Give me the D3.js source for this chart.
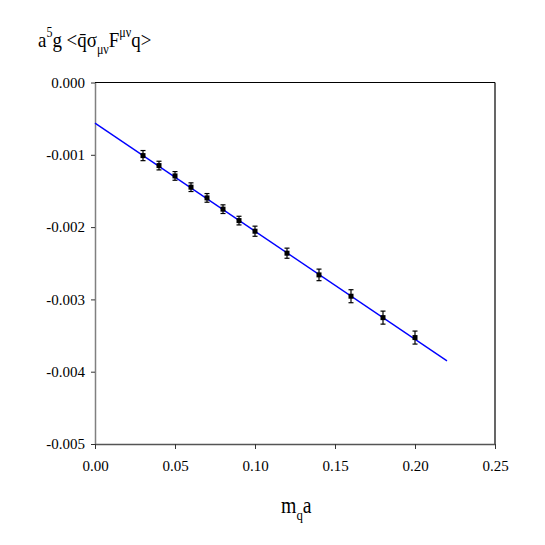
<!DOCTYPE html>
<html>
<head>
<meta charset="utf-8">
<script src="https://cdn.jsdelivr.net/npm/d3@7"></script>
<style>
  body { margin: 0; background: #fff; }
</style>
</head>
<body>
<div id="chart"></div>
<script>
// quark mass values and the measured condensate
var mqa = [0.03, 0.04, 0.05, 0.06, 0.07, 0.08, 0.09, 0.10, 0.12, 0.14, 0.16, 0.18, 0.20];
var cond = [-0.001011, -0.001149, -0.001292, -0.001448, -0.001596, -0.001752, -0.001910,
            -0.002057, -0.002361, -0.002661, -0.002956, -0.003252, -0.003528];
var condErr = [0.00007, 0.00006, 0.00006, 0.00006, 0.00006, 0.00006, 0.00006,
               0.00007, 0.00007, 0.00008, 0.00009, 0.00009, 0.00009];
// linear fit shown as the blue line
var fitX = [0.0, 0.22];
var fitY = [-0.000563, -0.003851];
var xTicks = [0.00, 0.05, 0.10, 0.15, 0.20, 0.25];
var yTicks = [0.000, -0.001, -0.002, -0.003, -0.004, -0.005];

var serif = "'Liberation Serif', 'Times New Roman', Times, serif";

var margin = {top: 82.5, right: 50, bottom: 101, left: 95}
  , width = 545 - margin.left - margin.right
  , height = 545 - margin.top - margin.bottom;

var xScale = d3.scaleLinear().domain([0, 0.25]).range([0, width]);
var yScale = d3.scaleLinear().domain([-0.005, 0]).range([height, 0]);

var root = d3.select("#chart").append("svg")
    .attr("width", 545)
    .attr("height", 545)
    .style("font-family", serif);

var svg = root.append("g")
    .attr("transform", "translate(" + margin.left + "," + margin.top + ")");

// frame: top and right are plain black lines
svg.append("line").attr("x1", 0).attr("x2", width).attr("y1", 0).attr("y2", 0)
    .attr("stroke", "#000").attr("stroke-width", 1.2);
svg.append("line").attr("x1", width).attr("x2", width).attr("y1", 0).attr("y2", height)
    .attr("stroke", "#000").attr("stroke-width", 1.2);

var fmtY = function(d) { return d3.format(".3f")(d).replace("\u2212", "-"); };

var yAxis = svg.append("g")
    .call(d3.axisLeft(yScale).tickValues(yTicks).tickSize(4).tickSizeOuter(0)
      .tickFormat(fmtY));
yAxis.attr("font-family", serif);
yAxis.select(".domain").attr("stroke", "#808080").attr("stroke-width", 1.5);
yAxis.selectAll(".tick line").attr("stroke", "#333");
yAxis.selectAll(".tick text").attr("x", -10).style("font-family", serif)
    .style("font-size", "15px").attr("fill", "#000");

var xAxis = svg.append("g")
    .attr("transform", "translate(0," + height + ")")
    .call(d3.axisBottom(xScale).tickValues(xTicks).tickSize(5).tickSizeOuter(0)
      .tickFormat(d3.format(".2f")));
xAxis.attr("font-family", serif);
xAxis.select(".domain").attr("stroke", "#555").attr("stroke-width", 1.5);
xAxis.selectAll(".tick line").attr("stroke", "#333");
xAxis.selectAll(".tick text").attr("y", 16).style("font-family", serif)
    .style("font-size", "15px").attr("fill", "#000");

// fit line
var line = d3.line()
    .x(function(d) { return xScale(d[0]); })
    .y(function(d) { return yScale(d[1]); });
svg.append("path")
    .datum(d3.zip(fitX, fitY))
    .attr("fill", "none")
    .attr("stroke", "#0000ff")
    .attr("stroke-width", 1.4)
    .attr("d", line);

var pts = d3.zip(mqa, cond, condErr);

// error bars
var eb = svg.selectAll(".err").data(pts).enter().append("g").attr("class", "err");
eb.append("line")
    .attr("x1", function(d) { return xScale(d[0]); })
    .attr("x2", function(d) { return xScale(d[0]); })
    .attr("y1", function(d) { return yScale(d[1] + d[2]); })
    .attr("y2", function(d) { return yScale(d[1] - d[2]); })
    .attr("stroke", "#000").attr("stroke-width", 1.2);
[1, -1].forEach(function(s) {
  eb.append("line")
      .attr("x1", function(d) { return xScale(d[0]) - 2.5; })
      .attr("x2", function(d) { return xScale(d[0]) + 2.5; })
      .attr("y1", function(d) { return yScale(d[1] + s * d[2]); })
      .attr("y2", function(d) { return yScale(d[1] + s * d[2]); })
      .attr("stroke", "#000").attr("stroke-width", 1.2);
});

svg.selectAll(".dot").data(pts).enter().append("rect")
    .attr("class", "dot")
    .attr("x", function(d) { return xScale(d[0]) - 2.5; })
    .attr("y", function(d) { return yScale(d[1]) - 2.5; })
    .attr("width", 5).attr("height", 5)
    .attr("fill", "#000");

// axis titles (the original font is narrow, so squeeze horizontally)
var ttl = root.append("text")
    .attr("transform", "translate(38,47) scale(0.86,1)")
    .style("font-size", "22px");
ttl.append("tspan").text("a");
ttl.append("tspan").attr("dy", -10).style("font-size", "14px").text("5");
ttl.append("tspan").attr("dy", 10).text("g <");
ttl.append("tspan").text("q\u0304");
ttl.append("tspan").text("\u03c3");
ttl.append("tspan").attr("dy", 7).style("font-size", "14px").text("\u03bc\u03bd");
ttl.append("tspan").attr("dy", -7).text("F");
ttl.append("tspan").attr("dy", -10).style("font-size", "14px").text("\u03bc\u03bd");
ttl.append("tspan").attr("dy", 10).text("q>");

var xl = root.append("text")
    .attr("transform", "translate(281,513) scale(0.86,1)")
    .style("font-size", "23px");
xl.append("tspan").text("m");
xl.append("tspan").attr("dy", 7).style("font-size", "15px").text("q");
xl.append("tspan").attr("dy", -7).text("a");
</script>
</body>
</html>
